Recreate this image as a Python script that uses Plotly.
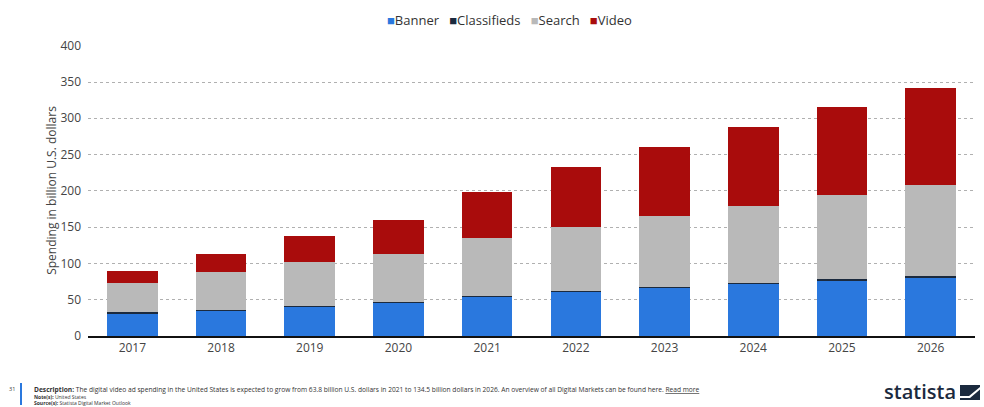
import plotly.graph_objects as go

years = ["2017", "2018", "2019", "2020", "2021", "2022", "2023", "2024", "2025", "2026"]
banner = [31, 35, 40, 46, 54, 61, 66.5, 72, 76.5, 81]
classifieds = [1.5, 1.5, 1.5, 1.5, 1.5, 1.5, 1.5, 1.5, 1.5, 1.5]
search = [40, 52, 61, 66, 79, 88, 97, 106, 116, 125]
video = [17, 25, 35, 47, 63.8, 82.5, 96, 109, 122, 134.5]

series = [
    ("Banner", banner, "#2a78de"),
    ("Classifieds", classifieds, "#1b2a3e"),
    ("Search", search, "#b9b9b9"),
    ("Video", video, "#a90c0c"),
]

fig = go.Figure()
for name, vals, col in series:
    fig.add_trace(go.Bar(x=years, y=vals, name=name, marker=dict(color=col, line=dict(width=0)),
                         width=0.57, showlegend=False))

PH = 291.0  # plot height in px


def py(pix):
    return -(pix - 336) / PH


fig.update_layout(
    barmode="stack",
    width=984, height=407,
    margin=dict(l=88, r=9, t=45, b=71),
    paper_bgcolor="white", plot_bgcolor="white",
    font=dict(family="Open Sans, sans-serif", color="#444"),
    showlegend=False,
    xaxis=dict(showgrid=False, showline=True, linecolor="#111", linewidth=2,
               tickfont=dict(size=12, color="#444"), ticks=""),
    yaxis=dict(range=[0, 401], dtick=50, showgrid=True, gridcolor="#b0b0b0", griddash="dot",
               gridwidth=1, zeroline=False, tickfont=dict(size=12, color="#444"),
               ticklabelstandoff=6,
               title=dict(text="Spending in billion U.S. dollars", font=dict(size=12, color="#444"),
                          standoff=1)),
)

# legend (built as text)
leg = "   ".join(
    f"<span style='color:{c}'>■</span>{n}" for n, _, c in series
)
fig.add_annotation(xref="paper", yref="paper", x=(509 - 88) / 887, y=(336 - 20) / PH,
                   xanchor="center", yanchor="middle", text=leg, showarrow=False,
                   font=dict(size=13, color="#333"))

desc = ("<b>Description:</b> The digital video ad spending in the United States is expected to grow from "
        "63.8 billion U.S. dollars in 2021 to 134.5 billion dollars in 2026. An overview of all Digital "
        "Markets can be found here. <u>Read more</u>")
x0 = (33 - 88) / 887
fig.add_annotation(xref="paper", yref="paper", x=x0, y=py(389), xanchor="left", yanchor="middle",
                   text=desc, showarrow=False, font=dict(size=6.65, color="#333"), align="left",
                   borderpad=0)
fig.add_annotation(xref="paper", yref="paper", x=x0, y=py(396.8), xanchor="left", yanchor="middle",
                   text="<b>Note(s):</b> United States", showarrow=False, font=dict(size=5, color="#333"),
                   align="left", borderpad=0)
fig.add_annotation(xref="paper", yref="paper", x=x0, y=py(403.2), xanchor="left", yanchor="middle",
                   text="<b>Source(s):</b> Statista Digital Market Outlook", showarrow=False,
                   font=dict(size=5, color="#333"), align="left", borderpad=0)
fig.add_annotation(xref="paper", yref="paper", x=(8 - 88) / 887, y=py(389), xanchor="left",
                   yanchor="middle", text="31", showarrow=False, font=dict(size=5.5, color="#333"),
                   borderpad=0)
fig.add_shape(type="rect", xref="paper", yref="paper", x0=(20 - 88) / 887, x1=(22 - 88) / 887,
              y0=py(405), y1=py(383), fillcolor="#2a78de", line=dict(width=0))

# statista logo
fig.add_annotation(xref="paper", yref="paper", x=(957 - 88) / 887, y=py(391), xanchor="right",
                   yanchor="middle", text="statista", showarrow=False, borderpad=0,
                   font=dict(size=20, color="#1b2a3e", family="Open Sans, sans-serif", weight=600))
lx0, lx1 = (960 - 88) / 887, (980 - 88) / 887
fig.add_shape(type="rect", xref="paper", yref="paper", x0=lx0, x1=lx1, y0=py(400), y1=py(385),
              fillcolor="#1b2a3e", line=dict(width=0))
fig.add_shape(type="path", xref="paper", yref="paper",
              path=(f"M {lx0} {py(396)} L {lx0 + (lx1 - lx0) * 0.45} {py(396)} "
                    f"L {lx1} {py(387)} L {lx1} {py(389.5)} "
                    f"L {lx0 + (lx1 - lx0) * 0.5} {py(398)} L {lx0} {py(398)} Z"),
              fillcolor="white", line=dict(width=0))

fig.write_html("out.html")
